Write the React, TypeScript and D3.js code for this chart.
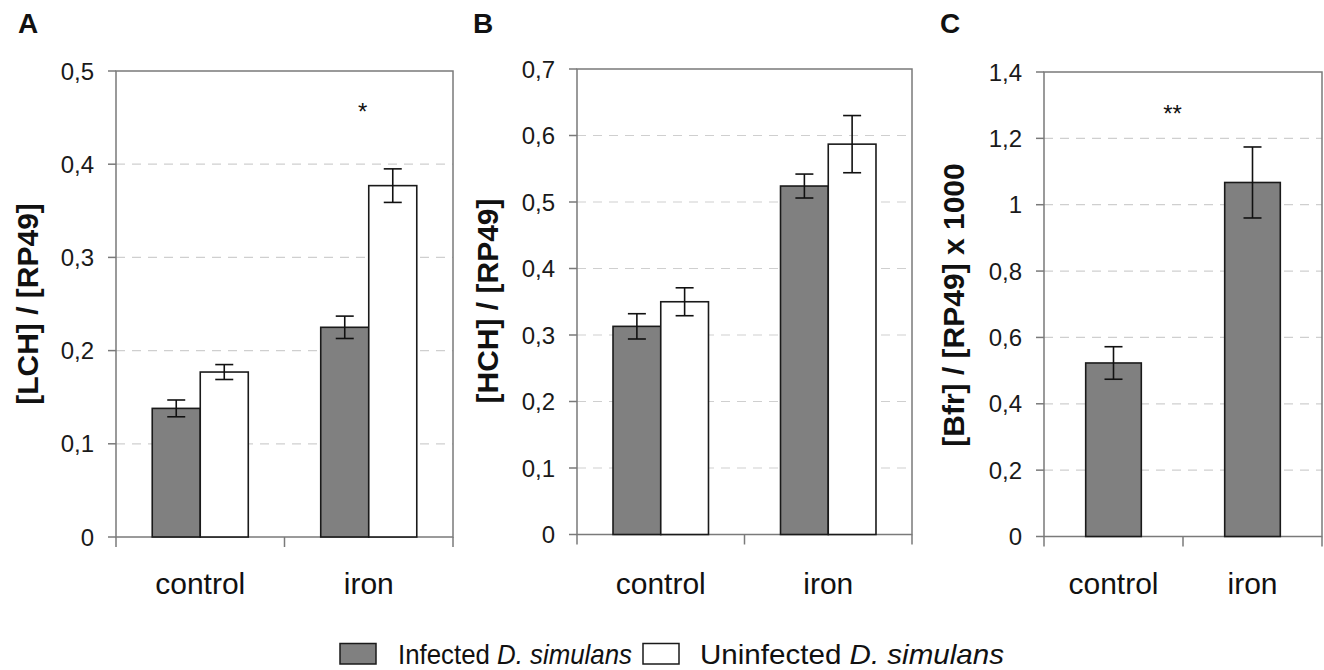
import React from "react";
import * as d3 from "d3";

const categories = ["control", "iron"];
const seriesNames = ["Infected", "Uninfected"];

// Panel A: [LCH]/[RP49]
const lchInfected = [0.138, 0.225];
const lchInfectedErr = [0.009, 0.012];
const lchUninfected = [0.177, 0.377];
const lchUninfectedErr = [0.008, 0.018];

// Panel B: [HCH]/[RP49]
const hchInfected = [0.313, 0.524];
const hchInfectedErr = [0.019, 0.018];
const hchUninfected = [0.35, 0.587];
const hchUninfectedErr = [0.021, 0.043];

// Panel C: [Bfr]/[RP49] x 1000
const bfrInfected = [0.523, 1.067];
const bfrInfectedErr = [0.049, 0.107];

const FONT = "'Liberation Sans', Arial, Helvetica, sans-serif";
const FILLS: Record<string, string> = { Infected: "#808080", Uninfected: "#ffffff" };

type Series = { name: string; values: number[]; errs: number[] };
type PanelProps = {
  letter: string;
  letterX: number;
  title: string;
  titleX: number;
  titleY: number;
  x0: number;
  x1: number;
  y0: number;
  y1: number;
  yMax: number;
  step: number;
  groupFrac: number;
  series: Series[];
  star?: { text: string; cat: string; value: number; offset: number };
};

function fmt(v: number) {
  return String(+v.toFixed(2)).replace(".", ",");
}

function Panel(p: PanelProps) {
  const x = d3.scaleBand<string>().domain(categories).range([p.x0, p.x1]).paddingInner(0).paddingOuter(0);
  const y = d3.scaleLinear().domain([0, p.yMax]).range([p.y1, p.y0]);
  const ticks = d3.range(0, p.yMax + p.step / 2, p.step).map((t) => +t.toFixed(2));
  const groupW = x.bandwidth() * p.groupFrac;
  const inner = d3
    .scaleBand<string>()
    .domain(p.series.map((s) => s.name))
    .range([0, groupW])
    .padding(0);
  const axisColor = "#7a7a7a";
  return (
    <g>
      <text x={p.letterX} y={33} fontFamily={FONT} fontWeight="bold" fontSize={28} fill="#111">
        {p.letter}
      </text>
      <text
        transform={`translate(${p.titleX},${p.titleY}) rotate(-90)`}
        textAnchor="middle"
        dominantBaseline="central"
        fontFamily={FONT}
        fontWeight="bold"
        fontSize={30}
        fill="#111"
      >
        {p.title}
      </text>
      {ticks
        .filter((t) => t > 0 && t < p.yMax)
        .map((t) => (
          <line
            key={"g" + t}
            x1={p.x0}
            x2={p.x1}
            y1={y(t)}
            y2={y(t)}
            stroke="#cfcfcf"
            strokeWidth={1.2}
            strokeDasharray="9,7"
          />
        ))}
      <rect x={p.x0} y={p.y0} width={p.x1 - p.x0} height={p.y1 - p.y0} fill="none" stroke={axisColor} strokeWidth={1.5} />
      {ticks.map((t) => (
        <g key={"t" + t}>
          <line x1={p.x0 - 8} x2={p.x0} y1={y(t)} y2={y(t)} stroke={axisColor} strokeWidth={1.5} />
          <text
            x={p.x0 - 22}
            y={y(t) + 8.5}
            textAnchor="end"
            fontFamily={FONT}
            fontSize={24}
            fill="#1a1a1a"
          >
            {fmt(t)}
          </text>
        </g>
      ))}
      {[...categories.map((c) => x(c) as number), p.x1].map((xx, i) => (
        <line key={"xt" + i} x1={xx} x2={xx} y1={p.y1} y2={p.y1 + 10} stroke={axisColor} strokeWidth={1.5} />
      ))}
      {categories.map((c, ci) => {
        const gx = (x(c) as number) + (x.bandwidth() - groupW) / 2;
        return (
          <g key={c}>
            {p.series.map((s) => {
              const bx = gx + (inner(s.name) as number);
              const v = s.values[ci];
              const e = s.errs[ci];
              const cx = bx + inner.bandwidth() / 2;
              return (
                <g key={s.name}>
                  <rect
                    x={bx}
                    y={y(v)}
                    width={inner.bandwidth()}
                    height={y(0) - y(v)}
                    fill={FILLS[s.name]}
                    stroke="#1a1a1a"
                    strokeWidth={1.6}
                  />
                  <line x1={cx} x2={cx} y1={y(v + e)} y2={y(v - e)} stroke="#111" strokeWidth={1.6} />
                  <line x1={cx - 9} x2={cx + 9} y1={y(v + e)} y2={y(v + e)} stroke="#111" strokeWidth={1.6} />
                  <line x1={cx - 9} x2={cx + 9} y1={y(v - e)} y2={y(v - e)} stroke="#111" strokeWidth={1.6} />
                </g>
              );
            })}
            <text
              x={(x(c) as number) + x.bandwidth() / 2}
              y={594}
              textAnchor="middle"
              fontFamily={FONT}
              fontSize={30}
              fill="#111"
            >
              {c}
            </text>
          </g>
        );
      })}
      {p.star && (
        <text
          x={(x(p.star.cat) as number) + x.bandwidth() / 2 + p.star.offset}
          y={y(p.star.value) + 14}
          textAnchor="middle"
          fontFamily={FONT}
          fontSize={24}
          fill="#111"
        >
          {p.star.text}
        </text>
      )}
    </g>
  );
}

export default function App() {
  const legendItems = [
    { name: "Infected", label: "Infected ", x: 340, tx: 398, len: 234 },
    { name: "Uninfected", label: "Uninfected ", x: 643, tx: 700, len: 304 },
  ];
  return (
    <svg
      width={1324}
      height={670}
      style={{ position: "absolute", left: 0, top: 0, background: "#fff" }}
    >
      <rect x={0} y={0} width={1324} height={670} fill="#fff" />
      <Panel
        letter="A"
        letterX={18}
        title="[LCH] / [RP49]"
        titleX={27}
        titleY={304}
        x0={116}
        x1={453}
        y0={71}
        y1={537}
        yMax={0.5}
        step={0.1}
        groupFrac={0.57}
        series={[
          { name: seriesNames[0], values: lchInfected, errs: lchInfectedErr },
          { name: seriesNames[1], values: lchUninfected, errs: lchUninfectedErr },
        ]}
        star={{ text: "*", cat: "iron", value: 0.462, offset: -6 }}
      />
      <Panel
        letter="B"
        letterX={473}
        title="[HCH] / [RP49]"
        titleX={487}
        titleY={301}
        x0={577}
        x1={912}
        y0={69}
        y1={534.5}
        yMax={0.7}
        step={0.1}
        groupFrac={0.57}
        series={[
          { name: seriesNames[0], values: hchInfected, errs: hchInfectedErr },
          { name: seriesNames[1], values: hchUninfected, errs: hchUninfectedErr },
        ]}
      />
      <Panel
        letter="C"
        letterX={940}
        title="[Bfr] / [RP49] x 1000"
        titleX={953}
        titleY={305}
        x0={1044}
        x1={1322}
        y0={72}
        y1={536.5}
        yMax={1.4}
        step={0.2}
        groupFrac={0.4}
        series={[{ name: seriesNames[0], values: bfrInfected, errs: bfrInfectedErr }]}
        star={{ text: "**", cat: "control", value: 1.292, offset: 59 }}
      />
      {legendItems.map((l) => (
        <g key={l.name}>
          <rect x={l.x} y={643.5} width={36} height={20.5} fill={FILLS[l.name]} stroke="#1a1a1a" strokeWidth={1.5} />
          <text
            x={l.tx}
            y={664}
            fontFamily={FONT}
            fontSize={28}
            fill="#111"
            textLength={l.len}
            lengthAdjust="spacingAndGlyphs"
          >
            {l.label}
            <tspan fontStyle="italic">D. simulans</tspan>
          </text>
        </g>
      ))}
    </svg>
  );
}
